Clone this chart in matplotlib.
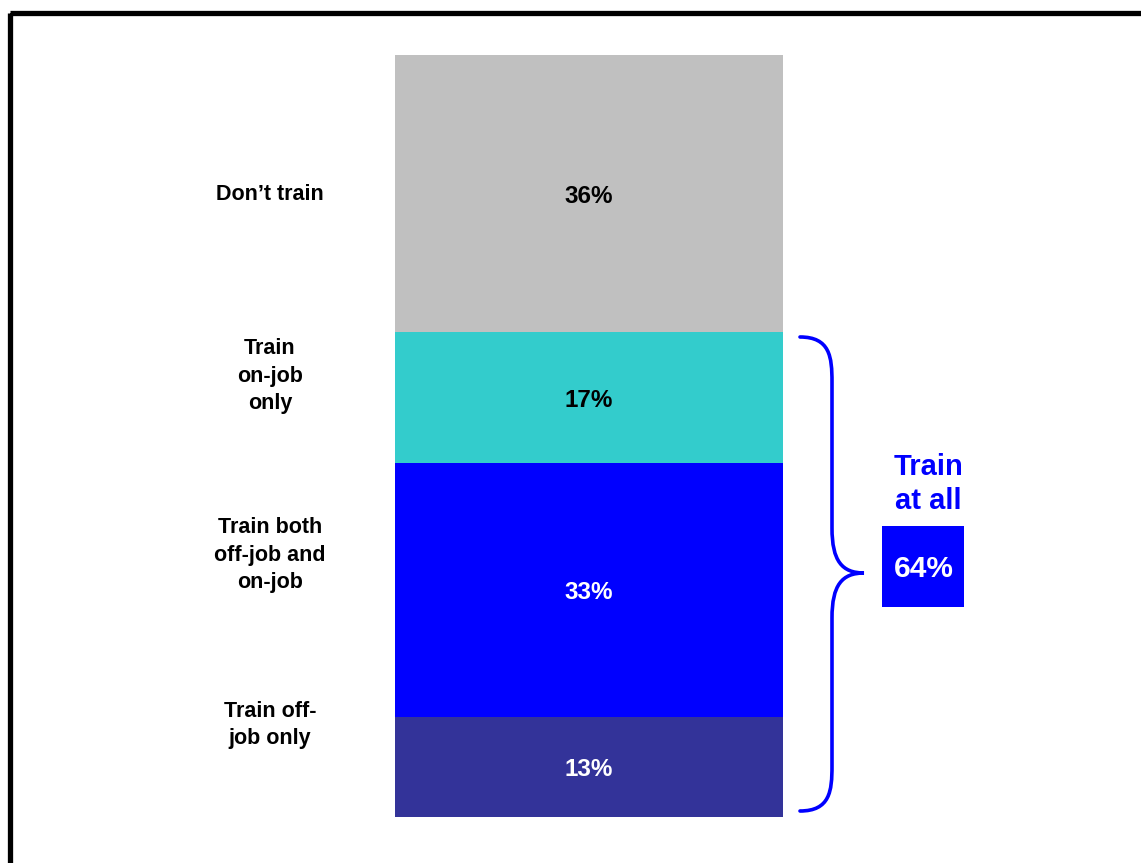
import matplotlib
matplotlib.use('Agg')
import matplotlib.pyplot as plt
from matplotlib.patches import Rectangle, PathPatch
from matplotlib.path import Path

plt.rcParams['font.family'] = ['Liberation Sans', 'DejaVu Sans']
plt.rcParams['font.weight'] = 'bold'

# stacked shares, bottom to top
segments = ['Train off-job only', 'Train both off-job and on-job', 'Train on-job only', "Don't train"]
shares = [13, 33, 17, 36]
colors = ['#333399', '#0000FF', '#33CCCC', '#C0C0C0']
value_colors = ['white', 'white', 'black', 'black']
side_labels = ['Train off-\njob only', 'Train both\noff-job and\non-job', 'Train\non-job\nonly', 'Don\u2019t train']
label_y = [725, 555, 376, 194]   # pixel rows of the left-hand labels
train_at_all = 64

W, H = 1141, 863
fig = plt.figure(figsize=(W / 100, H / 100), dpi=100)

# full-figure overlay in pixel units for frame, labels and brace
ov = fig.add_axes([0, 0, 1, 1])
ov.set_xlim(0, W)
ov.set_ylim(H, 0)
ov.axis('off')

ov.add_patch(Rectangle((10, 13.5), W + 20, H + 20, fill=False, edgecolor='black', linewidth=3.8))

# the stacked bar
ax = fig.add_axes([395 / W, 1 - 817 / H, 388 / W, 762 / H])
total = sum(shares)
bottom = 0
for s, c, tc in zip(shares, colors, value_colors):
    ax.bar(0, s, bottom=bottom, width=1, color=c, edgecolor='none')
    ax.text(0, bottom + s / 2 - 0.35, '%d%%' % s, ha='center', va='center', fontsize=17.5, color=tc, fontweight='bold')
    bottom += s
ax.set_xlim(-0.5, 0.5)
ax.set_ylim(0, total)
ax.axis('off')

for txt, y in zip(side_labels, label_y):
    ov.text(270, y, txt, ha='center', va='center', fontsize=15.5, fontweight='bold', linespacing=1.4)

# curly brace covering the training segments
top, bot, tip = 337, 811, 573
xl, xm, xt = 800, 832, 864
mid = tip
verts = [(xl, top), (xm - 2, top), (xm, top + 20), (xm, top + 45),
         (xm, mid - 45),
         (xm, mid - 12), (xm + 10, mid), (xt, mid),
         (xm + 10, mid), (xm, mid + 12), (xm, mid + 45),
         (xm, bot - 45),
         (xm, bot - 20), (xm - 2, bot), (xl, bot)]
codes = [Path.MOVETO, Path.CURVE4, Path.CURVE4, Path.CURVE4,
         Path.LINETO,
         Path.CURVE4, Path.CURVE4, Path.CURVE4,
         Path.CURVE4, Path.CURVE4, Path.CURVE4,
         Path.LINETO,
         Path.CURVE4, Path.CURVE4, Path.CURVE4]
ov.add_patch(PathPatch(Path(verts, codes), fill=False, edgecolor='#0000FF', linewidth=2.6, capstyle='round'))

ov.text(928, 484, 'Train\nat all', ha='center', va='center', fontsize=21, fontweight='bold',
        color='#0000FF', linespacing=1.26)
ov.add_patch(Rectangle((882, 526), 82, 81, facecolor='#0000FF', edgecolor='none'))
ov.text(924, 569, '%d%%' % train_at_all, ha='center', va='center', fontsize=21.5, fontweight='bold', color='white')

fig.savefig('out.png', dpi=100)
